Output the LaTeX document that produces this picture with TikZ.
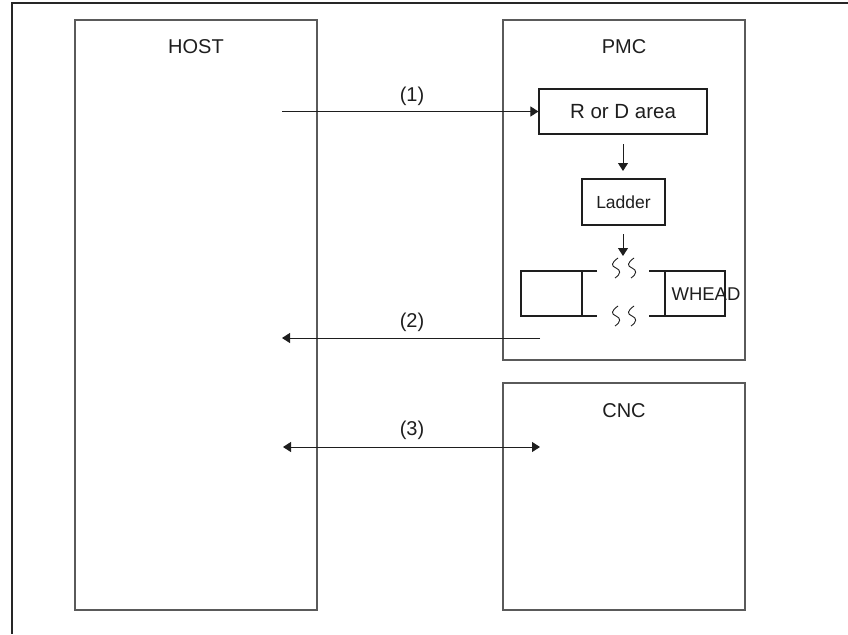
\documentclass[tikz,border=0pt]{standalone}
\usepackage{fontspec}
\setmainfont{Liberation Sans}
\usetikzlibrary{arrows.meta}
\definecolor{boxgray}{HTML}{5A5A5A}
\definecolor{txt}{HTML}{1E1E1E}
\tikzset{
  bigbox/.style={draw=boxgray, line width=1.4pt, minimum width=#1, inner sep=0pt},
  inbox/.style={draw=txt, line width=1.1pt, inner sep=0pt},
  title/.style={text=txt, font=\fontsize{20}{24}\selectfont, inner sep=0pt},
  lbl/.style={text=txt, font=\fontsize{20}{24}\selectfont, inner sep=0pt},
  conn/.style={draw=txt, line width=1pt},
  tip/.style={-{Triangle[length=8pt,width=10pt]}},
  tips/.style={{Triangle[length=8pt,width=10pt]}-{Triangle[length=8pt,width=10pt]}},
  wavy/.style={draw=txt, line width=0.9pt},
  frame/.style={draw=black!85, line width=2.2pt}
}
\begin{document}
\begin{tikzpicture}[x=1pt,y=-1pt]
\useasboundingbox (0,0) rectangle (848,634);
% outer frame (top and left edges)
\coordinate (fTR) at (848,3);
\coordinate (fTL) at (12,3);
\coordinate (fBL) at (12,634);
\draw[frame] (fTR) -- (fTL) -- (fBL);
% big boxes
\node[bigbox=242pt, minimum height=590pt] (host) at (196,315) {};
\node[bigbox=242pt, minimum height=340pt] (pmc) at (624,190) {};
\node[bigbox=242pt, minimum height=227pt] (cnc) at (624,496.5) {};
\node[title] (thost) at (196,47) {HOST};
\node[title] (tpmc) at (624,47) {PMC};
\node[title] (tcnc) at (624,411) {CNC};
% inner boxes
\node[inbox, minimum width=168pt, minimum height=45pt, font=\fontsize{20.5}{24}\selectfont, text=txt] (rd) at (623,111.5) {R or D area};
\node[inbox, minimum width=83pt, minimum height=46pt, font=\fontsize{17.5}{20}\selectfont, text=txt] (ladder) at (623.5,202) {Ladder};
% down arrows
\coordinate (a1s) at (623,144);
\coordinate (a1e) at (623,171);
\coordinate (a2s) at (623,234);
\coordinate (a2e) at (623,256);
\draw[conn, tip] (a1s) -- (a1e);
\draw[conn, tip] (a2s) -- (a2e);
% left small box with extended lines
\coordinate (lbTL) at (521,271);
\coordinate (lbBL) at (521,316);
\coordinate (lbTR) at (582,271);
\coordinate (lbBR) at (582,316);
\coordinate (lbTE) at (597,271);
\coordinate (lbBE) at (597,316);
\draw[inbox] (lbTE) -- (lbTL) -- (lbBL) -- (lbBE);
\draw[inbox] (lbTR) -- (lbBR);
% right small box (WHEAD)
\coordinate (rbTS) at (649,271);
\coordinate (rbBS) at (649,316);
\coordinate (rbTL) at (665,271);
\coordinate (rbBL) at (665,316);
\coordinate (rbTR) at (725,271);
\coordinate (rbBR) at (725,316);
\draw[inbox] (rbTS) -- (rbTR) -- (rbBR) -- (rbBS);
\draw[inbox] (rbTL) -- (rbBL);
\node[text=txt, font=\fontsize{18.5}{22}\selectfont, inner sep=0pt] (whead) at (706,294) {WHEAD};
% squiggles
\foreach \x/\t in {616/258, 632/258, 616/306, 632/306}{
  \draw[wavy] (\x+2,\t) .. controls (\x-5,\t+5) and (\x-5,\t+8) .. (\x,\t+10)
     .. controls (\x+5,\t+12) and (\x+5,\t+16) .. (\x-1,\t+20);
}
% horizontal arrows
\coordinate (h1s) at (282,111.5);
\draw[conn, tip] (h1s) -- (rd.west);
\node[lbl] (l1) at (412,96) {(1)};
\coordinate (h2s) at (540,338);
\coordinate (h2e) at (282,338);
\draw[conn, tip] (h2s) -- (h2e);
\node[lbl] (l2) at (412,322) {(2)};
\coordinate (h3s) at (283,447);
\coordinate (h3e) at (540,447);
\draw[conn, tips] (h3s) -- (h3e);
\node[lbl] (l3) at (412,430) {(3)};
\end{tikzpicture}
\end{document}
